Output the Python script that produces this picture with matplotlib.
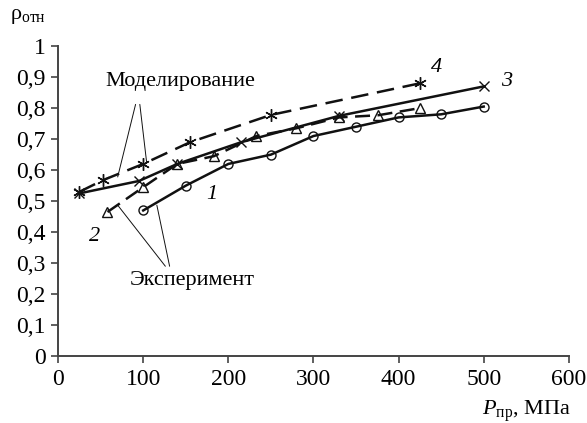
import matplotlib
matplotlib.use("Agg")
import matplotlib.pyplot as plt

# ---- data ----
# 1: experiment (circles, solid)
p1 = [100, 150, 200, 250, 300, 350, 400, 450, 500]
r1 = [0.47, 0.55, 0.62, 0.65, 0.71, 0.74, 0.77, 0.78, 0.805]
# 2: experiment (triangles, dashed)
p2 = [58, 100, 140, 183, 233, 280, 330, 376, 425]
r2 = [0.465, 0.545, 0.62, 0.645, 0.71, 0.735, 0.77, 0.777, 0.80]
# 3: modelling (crosses, solid)
p3 = [25, 95, 140, 215, 330, 500]
r3 = [0.525, 0.565, 0.62, 0.69, 0.775, 0.87]
# 4: modelling (asterisks, dashed)
p4 = [25, 53, 100, 155, 250, 425]
r4 = [0.53, 0.568, 0.62, 0.69, 0.778, 0.88]

xticks = [0, 100, 200, 300, 400, 500, 600]
yticks = [0, 0.1, 0.2, 0.3, 0.4, 0.5, 0.6, 0.7, 0.8, 0.9, 1.0]
ytick_labels = ["0", "0,1", "0,2", "0,3", "0,4", "0,5", "0,6", "0,7", "0,8", "0,9", "1"]

plt.rcParams["font.family"] = ["Liberation Serif", "DejaVu Serif"]
plt.rcParams["mathtext.fontset"] = "custom"
plt.rcParams["mathtext.rm"] = "Liberation Serif"
plt.rcParams["mathtext.it"] = "Liberation Serif:italic"

fig = plt.figure(figsize=(5.87, 4.23), dpi=100)
ax = fig.add_axes([0.099, 0.158, 0.870, 0.733])

blk = "#111111"
ax.plot(p1, r1, "-", color=blk, lw=1.8, marker="o", ms=6.5, mfc="none", mew=1.0)
ax.plot(p2, r2, color=blk, lw=1.8, ls=(0, (6, 3)), marker="^", ms=6.5, mfc="none", mew=1.0)
ax.plot(p3, r3, "-", color=blk, lw=1.8, marker="x", ms=7, mew=1.0)
ax.plot(p4, r4, color=blk, lw=1.8, ls=(0, (7, 3.5)), marker=(6, 2, 0), ms=9, mew=1.0)

# annotations
lw_a = 0.7
ax.text(143, 0.885, "Моделирование", ha="center", va="center", fontsize=16)
ax.annotate("", xy=(70, 0.578), xytext=(91, 0.812),
            arrowprops=dict(arrowstyle="-", color=blk, lw=lw_a, shrinkA=0, shrinkB=0))
ax.annotate("", xy=(104, 0.625), xytext=(96, 0.812),
            arrowprops=dict(arrowstyle="-", color=blk, lw=lw_a, shrinkA=0, shrinkB=0))
ax.text(157, 0.245, "Эксперимент", ha="center", va="center", fontsize=16)
ax.annotate("", xy=(70, 0.487), xytext=(126, 0.29),
            arrowprops=dict(arrowstyle="-", color=blk, lw=lw_a, shrinkA=0, shrinkB=0))
ax.annotate("", xy=(116, 0.487), xytext=(131, 0.29),
            arrowprops=dict(arrowstyle="-", color=blk, lw=lw_a, shrinkA=0, shrinkB=0))

for lab, x, y in [("1", 180, 0.52), ("2", 43, 0.385), ("3", 527, 0.885), ("4", 445, 0.93)]:
    ax.text(x, y, lab, ha="center", va="center", fontsize=16, style="italic")

ax.set_xlim(0, 600)
ax.set_ylim(0, 1)
ax.set_xticks(xticks)
ax.set_yticks(yticks)
ax.set_yticklabels(ytick_labels)
ax.tick_params(labelsize=17, length=5, width=1.2, color="#444444", direction="out", pad=4)
for s in ["top", "right"]:
    ax.spines[s].set_visible(False)
for s in ["left", "bottom"]:
    ax.spines[s].set_color("#444444")
    ax.spines[s].set_linewidth(1.4)

fig.text(0.017, 0.96, "ρ$_{\\rm отн}$", fontsize=16, ha="left", va="center")
fig.text(0.972, 0.028, "$P_{\\rm пр}$, МПа", fontsize=16, ha="right", va="center")

fig.savefig("out.png", dpi=100)
